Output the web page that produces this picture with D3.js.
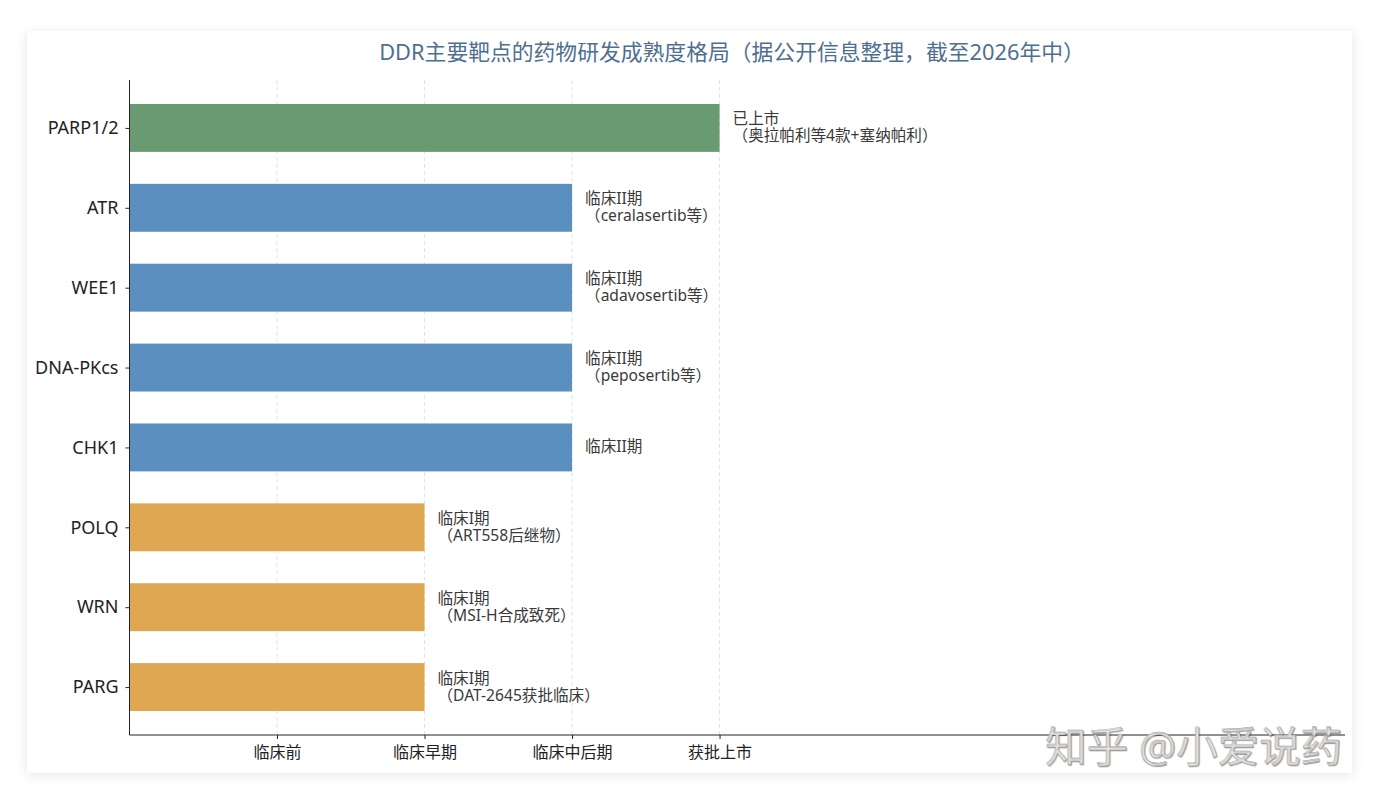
<!DOCTYPE html>
<html>
<head>
    <meta charset="utf-8"/>
    <title>DDR主要靶点的药物研发成熟度格局</title>
    <script src="https://d3js.org/d3.v7.min.js"></script>
</head>
<style>
    body { margin: 0; background: #ffffff; }
    .card { filter: drop-shadow(0px 2px 6px rgba(0,0,0,0.10)); }
</style>

<body>

<svg id="chart" width="1378" height="804"></svg>

<script type="text/javascript">

    // data
    var targets = ["PARP1/2", "ATR", "WEE1", "DNA-PKcs", "CHK1", "POLQ", "WRN", "PARG"];
    var stages = [4, 3, 3, 3, 3, 2, 2, 2];
    var stageNames = ["临床前", "临床早期", "临床中后期", "获批上市"];
    var stageTicks = [1, 2, 3, 4];
    var notes = [
        ["已上市", "（奥拉帕利等4款+塞纳帕利）"],
        ["临床II期", "（ceralasertib等）"],
        ["临床II期", "（adavosertib等）"],
        ["临床II期", "（peposertib等）"],
        ["临床II期"],
        ["临床I期", "（ART558后继物）"],
        ["临床I期", "（MSI-H合成致死）"],
        ["临床I期", "（DAT-2645获批临床）"]
    ];
    var stageColors = {4: "#6a9a72", 3: "#5b8fc0", 2: "#dfa751"};

    var svg = d3.select("#chart");
    var font = "'Noto Sans', 'Noto Sans CJK SC', sans-serif";

    // card background
    svg.append("rect")
            .attr("class", "card")
            .attr("x", 27).attr("y", 31)
            .attr("width", 1325).attr("height", 742)
            .attr("fill", "white");

    svg.append("text")
            .attr("x", 732).attr("y", 60)
            .attr("text-anchor", "middle")
            .attr("font-family", font)
            .attr("font-size", 21.8)
            .attr("fill", "#4e6f90")
            .text("DDR主要靶点的药物研发成熟度格局（据公开信息整理，截至2026年中）");

    var pLeft = 129.5, pRight = 1345, pTop = 80, pBottom = 735;

    var x = d3.scaleLinear().domain([0, 8.24]).range([pLeft, pRight]);
    var y = d3.scaleLinear().domain([-0.6, 7.6]).range([pTop, pBottom]);
    var barH = (y(1) - y(0)) * 0.6;

    // vertical dashed grid
    svg.append("g")
            .selectAll("line")
            .data(stageTicks)
            .join("line")
            .attr("x1", d => x(d)).attr("x2", d => x(d))
            .attr("y1", pTop).attr("y2", pBottom)
            .attr("stroke", "#dcdcdc")
            .attr("stroke-width", 0.8)
            .attr("stroke-dasharray", "4,3");

    svg.append("g")
            .selectAll("rect")
            .data(targets)
            .join("rect")
            .attr("x", x(0))
            .attr("y", (d, i) => y(i) - barH / 2)
            .attr("width", (d, i) => x(stages[i]) - x(0))
            .attr("height", barH)
            .attr("fill", (d, i) => stageColors[stages[i]]);

    // bar notes
    var labels = svg.append("g")
            .selectAll("text")
            .data(targets)
            .join("text")
            .attr("font-family", font)
            .attr("font-size", 15.6)
            .attr("fill", "#3a3a3a")
            .attr("x", (d, i) => x(stages[i]) + 13)
            .attr("y", (d, i) => y(i) - (notes[i].length - 1) * 8.5 + 5);
    labels.each(function (d, i) {
        var t = d3.select(this);
        notes[i].forEach(function (line, k) {
            t.append("tspan")
                    .attr("x", x(stages[i]) + 13)
                    .attr("dy", k === 0 ? 0 : 17)
                    .text(line);
        });
    });

    // axes
    var yAxis = d3.axisLeft(y)
            .tickValues(d3.range(targets.length))
            .tickFormat(i => targets[i])
            .tickSize(4)
            .tickPadding(7);
    var gy = svg.append("g").attr("transform", "translate(" + pLeft + ",0)").call(yAxis);
    gy.select(".domain").attr("d", "M0," + pTop + "V" + pBottom).attr("stroke", "#222");
    gy.selectAll(".tick line").attr("stroke", "#222");
    gy.selectAll("text").attr("font-family", font).attr("font-size", 18).attr("fill", "#222");

    var xAxis = d3.axisBottom(x)
            .tickValues(stageTicks)
            .tickFormat((d, i) => stageNames[i])
            .tickSize(4)
            .tickPadding(8);
    var gx = svg.append("g").attr("transform", "translate(0," + pBottom + ")").call(xAxis);
    gx.select(".domain").attr("d", "M" + pLeft + ",0H" + pRight).attr("stroke", "#222");
    gx.selectAll(".tick line").attr("stroke", "#222");
    gx.selectAll("text").attr("font-family", font).attr("font-size", 16).attr("fill", "#222");

    // watermark
    svg.append("text")
            .attr("x", 1342).attr("y", 762)
            .attr("text-anchor", "end")
            .attr("font-family", font)
            .attr("font-size", 41.5)
            .attr("fill", "#e4e4e4")
            .attr("stroke", "#a0a0a0")
            .attr("stroke-width", 0.4)
            .style("text-shadow", "1px 1px 1px rgba(0,0,0,0.35)")
            .text("知乎 @小爱说药");
</script>
</body>
</html>
